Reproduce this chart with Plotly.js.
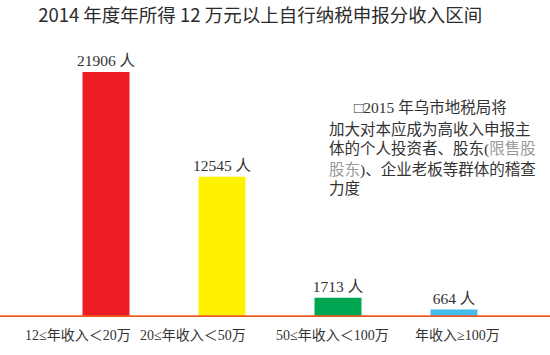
<!DOCTYPE html>
<html>
<head>
<meta charset="utf-8">
<script src="https://cdn.plot.ly/plotly-3.0.1.min.js"></script>
<style>html,body{margin:0;padding:0;background:#fff;}#chart{width:550px;height:355px;}</style>
</head>
<body>
<div id="chart"></div>
<script>
var categories = ['12≤年收入＜20万', '20≤年收入＜50万', '50≤年收入＜100万', '年收入≥100万'];
var values = [21906, 12545, 1713, 664];
var barColors = ['#ED1C24', '#FFF200', '#00A651', '#45BCEE'];
var titleText = '2014 年度年所得 12 万元以上自行纳税申报分收入区间';
var noteLines = [
  '□2015 年乌市地税局将',
  '加大对本应成为高收入申报主',
  '体的个人投资者、股东(<span style="color:#999">限售股</span>',
  '<span style="color:#999">股东</span>)、企业老板等群体的稽查',
  '力度'
];

var serif = 'Liberation Serif, Noto Sans CJK SC, serif';
var labelShift = [-28, -29, -6, 3];
var noteX = [0.655, 0.601, 0.601, 0.601, 0.601];
var noteY = [107, 129, 149, 170, 188];

var trace = {
  type: 'bar',
  x: categories,
  y: values,
  marker: {color: barColors, line: {width: 0}},
  width: 0.405,
  text: values.map(function(v){ return v + ' 人'; }),
  textposition: 'outside',
  constraintext: 'none',
  cliponaxis: false,
  textfont: {family: serif, size: 15.5, color: '#333'},
  hoverinfo: 'none'
};

var annotations = categories.map(function(c, i){
  return {x: c, xref: 'x', y: 0, yref: 'y', yanchor: 'top', yshift: -9, xshift: labelShift[i],
    text: c, showarrow: false, font: {family: serif, size: 14, color: '#333'}};
});
noteLines.forEach(function(t, i){
  annotations.push({x: noteX[i], xref: 'paper', xanchor: 'left', y: (317 - noteY[i]) / 277, yref: 'paper', yanchor: 'middle',
    text: t, showarrow: false, align: 'left', font: {family: serif, size: 15.5, color: '#333'}});
});

var layout = {
  width: 550, height: 355,
  margin: {l: 48, r: 38, t: 40, b: 38},
  paper_bgcolor: '#fff', plot_bgcolor: '#fff',
  title: {text: titleText, x: 0.473, xanchor: 'center', y: 0.955, yanchor: 'middle',
    font: {family: 'Noto Sans CJK SC, sans-serif', size: 18.5, color: '#2b2b2b'}},
  showlegend: false,
  xaxis: {type: 'category', range: [-0.5, 3.5], showticklabels: false, showgrid: false, zeroline: false, showline: false, ticks: ''},
  yaxis: {range: [0, 24767], visible: false, showgrid: false, zeroline: false},
  shapes: [{type: 'line', xref: 'paper', yref: 'y', x0: -48/464, x1: 502/464, y0: 0, y1: 0,
    line: {color: '#EE5A24', width: 3.5}}],
  annotations: annotations
};

Plotly.newPlot('chart', [trace], layout, {staticPlot: true, displayModeBar: false});
</script>
</body>
</html>
